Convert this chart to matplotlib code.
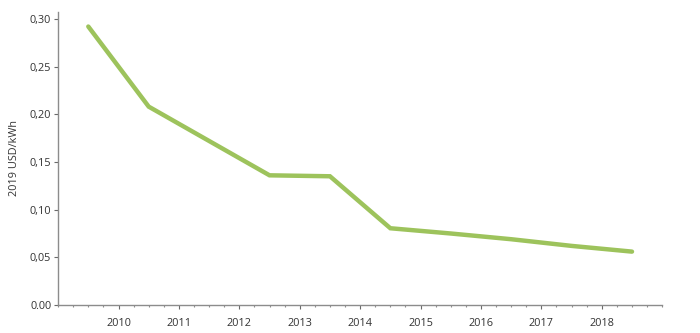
import matplotlib
matplotlib.use("Agg")
import matplotlib.pyplot as plt
from matplotlib.ticker import MultipleLocator, FixedLocator

years = [2009.5, 2010.5, 2011.5, 2012.5, 2013.5, 2014.5, 2015.5, 2016.5, 2017.5, 2018.5]
cost = [0.292, 0.208, 0.172, 0.136, 0.135, 0.0805, 0.075, 0.069, 0.062, 0.056]
xtick_years = [2010, 2011, 2012, 2013, 2014, 2015, 2016, 2017, 2018]
ytick_vals = [0.00, 0.05, 0.10, 0.15, 0.20, 0.25, 0.30]
ytick_labels = ["0.00", "0,05", "0,10", "0,15", "0,20", "0,25", "0,30"]
ylabel = "2019 USD/kWh"

plt.rcParams['font.family'] = ['Open Sans', 'DejaVu Sans']

fig = plt.figure(figsize=(7.0, 3.33), dpi=100)
ax = fig.add_axes([0.083, 0.084, 0.863, 0.881])

ax.plot(years, cost, color='#9dc35c', lw=3.2, solid_joinstyle='miter', solid_capstyle='round')

ax.set_xlim(2009.0, 2019.0)
ax.set_ylim(0, 0.3076)

ax.xaxis.set_major_locator(FixedLocator(xtick_years))
ax.set_xticklabels([str(y) for y in xtick_years])
ax.xaxis.set_minor_locator(MultipleLocator(0.25))
ax.yaxis.set_major_locator(FixedLocator(ytick_vals))
ax.set_yticklabels(ytick_labels)

for s in ['top', 'right']:
    ax.spines[s].set_visible(False)
for s in ['left', 'bottom']:
    ax.spines[s].set_color('#8c8c8c')
    ax.spines[s].set_linewidth(1.0)

fs = 7.8
ax.tick_params(axis='x', which='major', direction='out', length=3, width=0.8,
               color='#6a6a6a', pad=6, labelsize=fs, labelcolor='#333333')
ax.tick_params(axis='x', which='minor', direction='out', length=1.5, width=0.8,
               color='#8c8c8c')
ax.tick_params(axis='y', which='major', direction='out', length=3, width=0.8,
               color='#6a6a6a', pad=2, labelsize=fs, labelcolor='#333333')

ax.set_ylabel(ylabel, fontsize=fs, color='#333333')
ax.yaxis.set_label_coords(-0.063, 0.5)

fig.savefig("out.png", dpi=100, facecolor='white')
